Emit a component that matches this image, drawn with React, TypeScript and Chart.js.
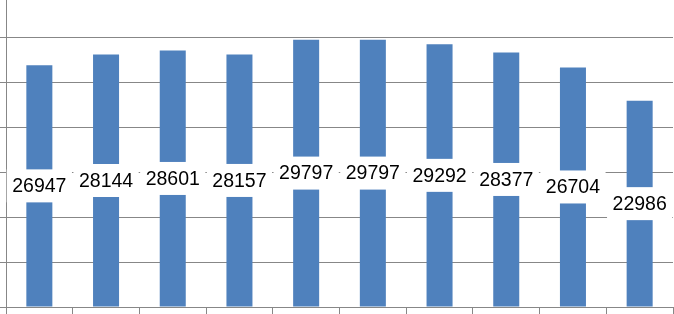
import React, { useEffect, useRef } from "react";
import { Chart, registerables } from "chart.js";

Chart.register(...registerables);

const categories = ["1", "2", "3", "4", "5", "6", "7", "8", "9", "10"];
const values = [26947, 28144, 28601, 28157, 29797, 29797, 29292, 28377, 26704, 22986];
const yMin = 0;
const yMax = 35000;
const yStep = 5000;

const GRAY = "#878787";
const BLUE = "#4F81BD";

const centerLabels = {
  id: "centerLabels",
  afterDatasetsDraw(chart: any) {
    const ctx = chart.ctx;
    const meta = chart.getDatasetMeta(0);
    ctx.save();
    ctx.font = "19.5px 'Liberation Sans', Arial, sans-serif";
    ctx.textAlign = "center";
    ctx.textBaseline = "middle";
    meta.data.forEach((bar: any, i: number) => {
      const text = String(values[i]);
      const cx = bar.x;
      const cy = (bar.y + bar.base) / 2;
      const w = ctx.measureText(text).width + 11;
      const h = 33;
      ctx.fillStyle = "#ffffff";
      ctx.fillRect(cx - w / 2, cy - h / 2, w, h);
      ctx.fillStyle = "#000000";
      ctx.fillText(text, cx, cy + 1);
    });
    ctx.restore();
  },
};

export default function App() {
  const ref = useRef<HTMLCanvasElement>(null);
  useEffect(() => {
    if (!ref.current) return;
    const chart = new Chart(ref.current, {
      type: "bar",
      data: {
        labels: categories,
        datasets: [
          {
            data: values,
            backgroundColor: BLUE,
            borderWidth: 0,
            categoryPercentage: 1,
            barPercentage: 0.39,
          },
        ],
      },
      options: {
        responsive: false,
        animation: false,
        layout: { padding: { left: 0, right: 1, top: 0, bottom: 0 } },
        plugins: { legend: { display: false }, tooltip: { enabled: false } },
        scales: {
          x: {
            grid: {
              drawOnChartArea: false,
              drawTicks: true,
              tickLength: 7,
              color: GRAY,
              lineWidth: 1,
            },
            border: { display: true, color: GRAY, width: 1 },
            ticks: { display: false },
          },
          y: {
            min: yMin,
            max: yMax,
            ticks: { display: false, stepSize: yStep },
            grid: {
              display: true,
              drawOnChartArea: true,
              drawTicks: true,
              tickLength: 6,
              lineWidth: 1,
              color: GRAY,
            },
            border: { display: true, color: GRAY, width: 1 },
          },
        },
      },
      plugins: [centerLabels],
    });
    return () => chart.destroy();
  }, []);
  return (
    <div style={{ position: "absolute", left: 0, top: 0, width: 674, height: 314, overflow: "hidden", background: "#fff" }}>
      <canvas ref={ref} width={674} height={321} style={{ display: "block", position: "absolute", left: 0, top: -7 }} />
    </div>
  );
}
